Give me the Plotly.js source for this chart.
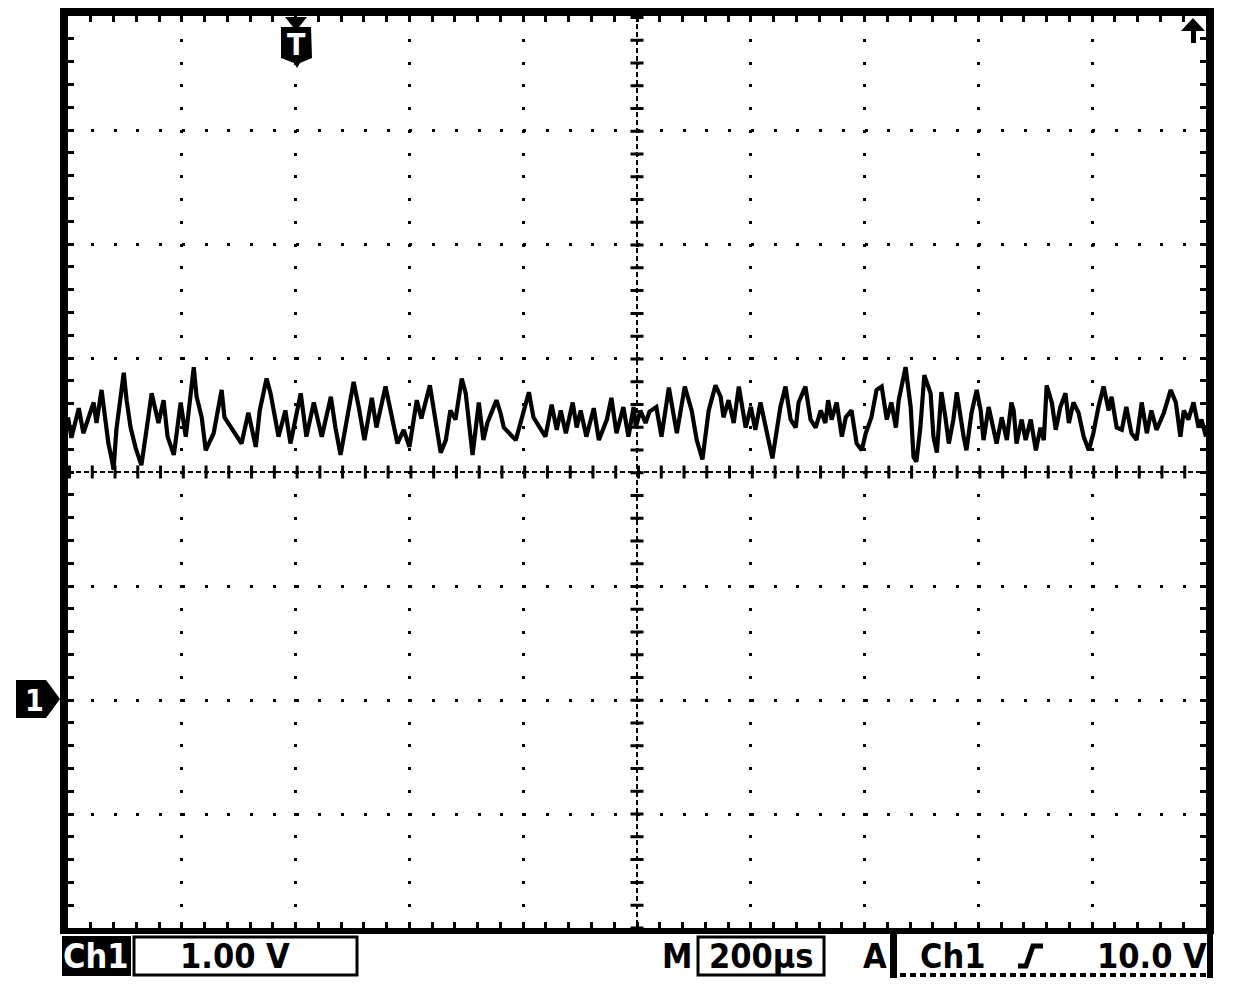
<!DOCTYPE html>
<html>
<head>
<meta charset="utf-8">
<script src="https://cdn.plot.ly/plotly-3.0.1.min.js"></script>
<style>
  html, body { margin: 0; padding: 0; background: #fff; }
  #scope { width: 1248px; height: 984px; }
</style>
</head>
<body>
<div id="scope"></div>
<script>
// Ch1 trace: time in µs (trigger at 0), voltage in V (1 V/div)
const timeUs = [
  -400,-394,-381,-373,-355,-350,-341,-329,-323,-320,-315,-302,-297,-290,-281,-271,-262,-253,-241,-232,
  -225,-214,-202,-193,-179,-174,-165,-158,-144,-130,-125,-114,-95,-83,-74,
  -70,-63,-51,-44,-30,-18,-9,9,19,32,46,62,70,79,90,102,111,121,134,142,158,169,179,190,200,213,221,236,246,255,264,
  272,281,292,299,311,322,330,337,353,360,366,387,401,410,418,431,439,450,459,466,475,487,494,501,511,524,533,547,555,564,576,585,594,
  598,606,615,622,634,643,656,664,670,684,696,705,715,726,738,747,752,761,770,779,791,800,808,817,826,838,852,861,870,879,884,896,905,914,923,931,
  936,942,951,960,967,977,986,995,1002,1012,1021,1030,1039,1047,1055,1060,1072,1081,1086,1091,1098,1105,1116,1121,1127,1135,1142,1148,1156,1162,
  1174,1179,1188,1197,1204,1209,1218,1227,1232,1241,1250,1258,
  1262,1267,1276,1283,1292,1301,1309,1315,1320,1329,1336,1344,1353,1359,1367,1376,1385,1394,1402,1411,1420,1429,1434,1443,1452,1460,1469,1478,
  1487,1496,1504,1513,1526,1538,1547,1555,1561,1569,1578,1587,1592,1600
];
const volts = [
  2.48,2.30,2.56,2.34,2.61,2.43,2.72,2.25,2.11,2.02,2.37,2.87,2.63,2.39,2.21,2.06,2.37,2.69,2.43,2.63,
  2.31,2.15,2.61,2.31,2.92,2.66,2.48,2.19,2.34,2.72,2.48,2.39,2.25,2.52,2.28,
  2.22,2.54,2.82,2.69,2.31,2.54,2.25,2.69,2.31,2.61,2.31,2.66,2.39,2.15,2.48,2.79,2.57,2.28,2.65,2.39,2.75,2.48,2.25,2.37,2.22,2.63,2.47,2.76,2.46,2.17,2.28,
  2.54,2.46,2.82,2.69,2.15,2.61,2.28,2.43,2.63,2.52,2.39,2.28,2.54,2.70,2.48,2.37,2.31,2.59,2.37,2.54,2.34,2.61,2.39,2.54,2.31,2.56,2.28,2.46,2.65,2.34,2.57,2.31,2.57,
  2.39,2.54,2.43,2.53,2.57,2.31,2.74,2.52,2.34,2.75,2.54,2.28,2.11,2.54,2.76,2.66,2.48,2.63,2.43,2.75,2.39,2.57,2.37,2.61,2.39,2.12,2.57,2.75,2.46,2.39,2.61,2.75,2.46,2.39,2.54,2.43,
  2.63,2.46,2.61,2.31,2.48,2.54,2.25,2.19,2.34,2.48,2.72,2.75,2.46,2.61,2.39,2.63,2.92,2.57,2.13,2.09,2.39,2.85,2.69,2.31,2.17,2.70,2.48,2.25,2.46,2.70,
  2.31,2.19,2.52,2.72,2.54,2.28,2.57,2.34,2.25,2.48,2.28,2.61,
  2.54,2.25,2.46,2.28,2.46,2.19,2.39,2.28,2.76,2.61,2.37,2.57,2.69,2.43,2.61,2.52,2.31,2.19,2.34,2.57,2.75,2.54,2.66,2.39,2.37,2.57,2.34,2.28,
  2.61,2.34,2.54,2.37,2.52,2.72,2.61,2.31,2.54,2.46,2.61,2.39,2.46,2.31
];

// screen settings
const timeRange = [-400, 1600];   // 10 div x 200 µs
const voltRange = [-2, 6];        // 8 div x 1 V, ground marker at 0 V
const scaleText = '1.00 V';
const timebaseText = '200µs';
const trigSource = 'Ch1';
const trigLevel = '10.0 V';

// page-pixel helpers for the scope furniture (plot area: x 68..1206, y 16..928)
const L = 68, B = 928;
const ink = 'black';
const lcd = 'DejaVu Sans Condensed, DejaVu Sans, sans-serif';

function pxShape(s) {
  return Object.assign({xref: 'paper', yref: 'paper', xsizemode: 'pixel', ysizemode: 'pixel',
                        xanchor: 0, yanchor: 0, layer: 'above'}, s);
}
function box(x0, y0, x1, y1, fill, lw) {
  return pxShape({type: 'rect', x0: x0 - L, x1: x1 - L, y0: B - y0, y1: B - y1,
                  fillcolor: fill, line: {color: ink, width: lw || 0}});
}
function poly(pts, fill) {
  const d = 'M' + pts.map(p => (p[0] - L) + ',' + (B - p[1])).join('L') + 'Z';
  return pxShape({type: 'path', path: d, fillcolor: fill, line: {width: 0}});
}
function stroke(pts, w, dash) {
  const d = 'M' + pts.map(p => (p[0] - L) + ',' + (B - p[1])).join('L');
  return pxShape({type: 'path', path: d, line: {color: ink, width: w, dash: dash || 'solid'}});
}
function label(text, cx, cy, color, size) {
  return {xref: 'paper', yref: 'paper', x: 0, y: 0, xshift: cx - L, yshift: B - cy,
          xanchor: 'center', yanchor: 'middle', showarrow: false, text: text,
          font: {family: lcd, size: size || 34, color: color || ink, weight: 'bold'}};
}

var ch1 = {
  x: timeUs,
  y: volts,
  type: 'scatter',
  mode: 'lines',
  line: {color: ink, width: 4.2},
  hoverinfo: 'skip'
};

const dotDash = '3px,19.76px';
var axisCommon = {
  showticklabels: false,
  zeroline: false,
  showline: false,
  showgrid: true,
  gridcolor: ink,
  gridwidth: 3,
  griddash: dotDash,
  ticks: 'inside',
  ticklen: 6,
  tickwidth: 3,
  tickcolor: ink,
  mirror: 'ticks',
  fixedrange: true
};

var shapes = [
  // centre graticule lines: fine dashes plus 0.2 div cross ticks
  {type: 'line', xref: 'paper', yref: 'y', x0: 0, x1: 1, y0: 2, y1: 2, layer: 'below',
   line: {color: ink, width: 2, dash: '5px,3px'}},
  {type: 'line', xref: 'paper', yref: 'y', x0: 0, x1: 1, y0: 2, y1: 2, layer: 'below',
   line: {color: ink, width: 13, dash: dotDash}},
  {type: 'line', xref: 'x', yref: 'paper', x0: 600, x1: 600, y0: 1, y1: 0, layer: 'below',
   line: {color: ink, width: 2, dash: '5px,3px'}},
  {type: 'line', xref: 'x', yref: 'paper', x0: 600, x1: 600, y0: 1, y1: 0, layer: 'below',
   line: {color: ink, width: 13, dash: dotDash}},

  // bezel frame
  box(60, 8, 68, 934, ink), box(60, 8, 1214, 16, ink),
  box(1206, 8, 1214, 934, ink), box(60, 928, 1214, 934, ink),

  // trigger position marker "T"
  poly([[285, 17], [307, 17], [299, 27], [311, 27], [312, 58], [300, 63], [297, 68],
        [294, 63], [281, 58], [281, 27], [293, 27]], ink),
  // trigger level arrow (level above screen)
  poly([[1181, 31], [1193, 18], [1205, 31]], ink),
  box(1191, 30, 1196, 43, ink),
  // channel 1 ground marker
  poly([[16, 680], [46, 680], [52, 688], [60, 699], [52, 710], [46, 718], [16, 718]], ink),

  // status bar
  box(62, 936, 131, 976, ink),
  box(134, 937, 357, 975, 'white', 3),
  box(698, 937, 824, 975, 'white', 3),
  box(890, 934, 897, 978, ink),
  box(1207, 934, 1213, 978, ink),
  stroke([[890, 975], [1213, 975]], 4, '6px,4px'),
  stroke([[1018, 966], [1026, 966], [1033, 946], [1043, 946]], 5)
];

var annotations = [
  label('T', 296, 44, 'white', 30),
  label('1', 34, 700, 'white', 30),
  label('Ch1', 96, 956, 'white', 34),
  label(scaleText, 235, 956),
  label('M', 677, 956),
  label(timebaseText, 761, 956),
  label('A', 875, 956),
  label(trigSource, 953, 956),
  label(trigLevel, 1152, 956)
];

var layout = {
  width: 1248,
  height: 984,
  margin: {l: 68, r: 42, t: 16, b: 56, pad: 0},
  paper_bgcolor: 'white',
  plot_bgcolor: 'white',
  showlegend: false,
  xaxis: Object.assign({}, axisCommon, {
    range: timeRange, tick0: -400, dtick: 200,
    minor: {tick0: -400, dtick: 40, ticks: 'inside', ticklen: 6, tickwidth: 3, tickcolor: ink, showgrid: false}
  }),
  yaxis: Object.assign({}, axisCommon, {
    range: voltRange, tick0: -2, dtick: 1,
    minor: {tick0: -2, dtick: 0.2, ticks: 'inside', ticklen: 6, tickwidth: 3, tickcolor: ink, showgrid: false}
  }),
  shapes: shapes,
  annotations: annotations
};

Plotly.newPlot('scope', [ch1], layout, {staticPlot: true, displayModeBar: false});
</script>
</body>
</html>
